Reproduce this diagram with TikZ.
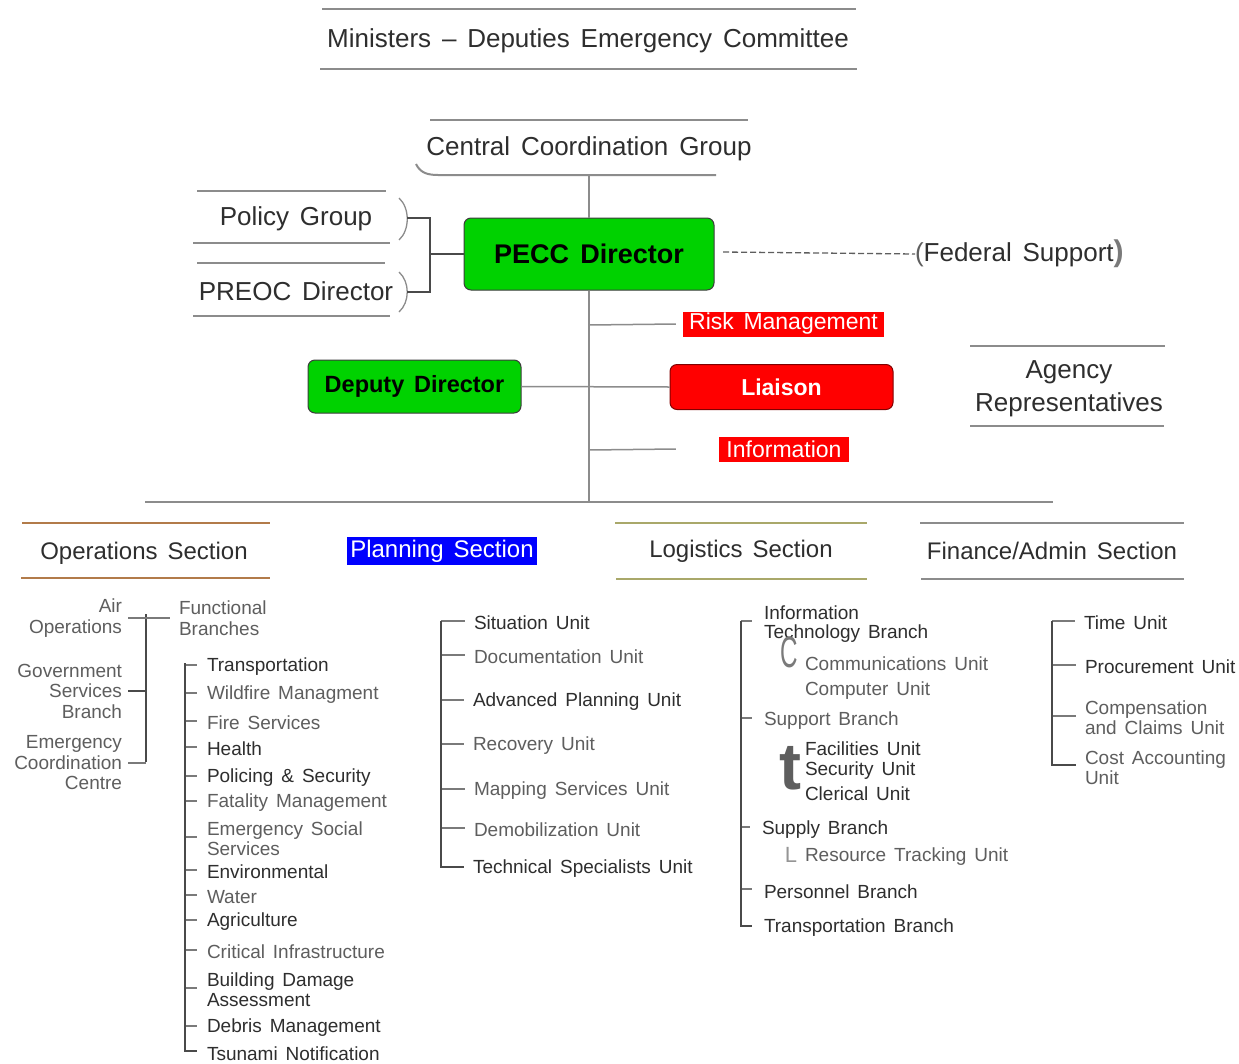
\documentclass[tikz,border=0pt]{standalone}
\usepackage{fontspec}
\setmainfont[WordSpace=1.5]{Liberation Sans}
\usetikzlibrary{calc}
\definecolor{dk}{HTML}{2E2E2E}
\definecolor{lt}{HTML}{5E5E5E}
\definecolor{rulec}{HTML}{8C8C8C}
\definecolor{brn}{HTML}{B27B4A}
\definecolor{olv}{HTML}{A9A86A}
\definecolor{grn}{HTML}{00D200}
\definecolor{bordr}{HTML}{3C3C3C}
\definecolor{trc}{HTML}{4A4A4A}
\definecolor{tkc}{HTML}{7A7A7A}
\definecolor{blu}{HTML}{0000FF}
\tikzset{
  hd/.style={inner sep=0, outer sep=0, text=dk, font=\fontsize{26}{33}\selectfont, align=center, yshift=-3pt},
  sec/.style={inner sep=0, outer sep=0, text=dk, font=\fontsize{24}{28}\selectfont, yshift=-2pt},
  itm/.style={inner sep=0, outer sep=0, anchor=west, align=left, font=\fontsize{19}{20}\selectfont, text=dk, yshift=-3pt},
  itl/.style={itm, text=lt},
  lcol/.style={inner sep=0, outer sep=0, anchor=east, align=right, font=\fontsize{19}{20.5}\selectfont, text=lt, yshift=-3pt},
  rl/.style={draw=rulec, line width=1.3},
  conn/.style={draw=rulec, line width=1.5},
  gbox/.style={draw=bordr, fill=grn, rounded corners=7, line width=1, text=black, inner sep=0},
  rbox/.style={draw=red!50!black, fill=red, rounded corners=7, line width=1, text=white, inner sep=0, font=\bfseries\fontsize{23}{23}\selectfont},
  rlab/.style={fill=red, text=white, inner sep=0, font=\fontsize{23}{25}\selectfont},
  tree/.style={draw=trc, line width=1.3},
  tick/.style={draw=tkc, line width=1.3},
  glyph/.style={inner sep=0, outer sep=0, text=tkc}
}
\begin{document}
\begin{tikzpicture}[x=1pt,y=-1pt]
\useasboundingbox[fill=white] (0,0) rectangle (1239,1063);

% ---- top title
\node[hd] (mdec) at (588,38) {Ministers – Deputies Emergency Committee};
\draw[rl] (322,9) -- (856,9);
\draw[rl, line width=2] (320,69) -- (857,69);

% ---- central coordination group
\node[hd] (ccg) at (589,146) {Central Coordination Group};
\draw[rl] (430,120) -- (748,120);
\draw[rl, line width=2] (416,164) .. controls (420,172) and (426,175) .. (438,175) -- (716,175);
\coordinate (ccgb) at (589,175);

% ---- PECC director
\node[gbox, minimum width=250, minimum height=72, font=\bfseries\fontsize{27}{27}\selectfont] (pecc) at (589,254) {PECC Director};
\draw[conn] (ccgb) -- (pecc.north);

% ---- policy group / PREOC
\node[hd] (pg) at (296,216) {Policy Group};
\draw[rl] (197,191) -- (386,191);
\draw[rl] (193,243) -- (390,243);
\draw[rl] (399,198) .. controls (410,208) and (410,230) .. (399,240);
\coordinate (pgb) at (407,218);
\node[hd] (preoc) at (296,288) {PREOC Director};
\draw[rl] (197,263) -- (385,263);
\draw[rl] (193,316) -- (390,316);
\draw[rl] (399,272) .. controls (410,282) and (410,302) .. (399,312);
\coordinate (prb) at (407,292);
\coordinate (jn) at (430,254);
\draw[draw=trc, line width=1.3] (pgb) -- (430,218) -- (430,292) -- (prb);
\draw[draw=trc, line width=1.3] (jn) -- (pecc.west);

% ---- federal support
\node[hd, anchor=west] (fed) at (915,251) {{\color{lt}(}Federal Support{\color{tkc}\bfseries\fontsize{30}{30}\selectfont)}};
\draw[draw=lt, line width=1.3, dash pattern=on 6pt off 3pt] (723,252) -- (fed.west);

% ---- trunk and staff
\coordinate (bar) at (589,502);
\draw[conn] (pecc.south) -- (bar);
\node[rlab, minimum width=201, minimum height=25] (risk) at (783.5,324) {Risk\ Management};
\draw[conn] (589,325) -- ([xshift=-7]risk.west);
\node[gbox, minimum width=213, minimum height=53, font=\bfseries\fontsize{23.5}{23.5}\selectfont] (dep) at (414.5,386.5) {Deputy Director};
\node[rbox, minimum width=223, minimum height=45] (lia) at (781.5,387) {Liaison};
\draw[conn] (dep.east) -- (lia.west);
\node[rlab, minimum width=130, minimum height=25] (info) at (784,449) {Information};
\draw[conn] (589,450) -- ([xshift=-43]info.west);

% ---- agency representatives
\node[hd] (agr) at (1069,386) {Agency\\Representatives};
\draw[rl] (970,346) -- (1165,346);
\draw[rl] (970,426) -- (1164,426);

% ---- section bar
\draw[rl, line width=2] (145,502) -- (1053,502);

% ---- section headings
\node[sec] (ops) at (144,551) {Operations Section};
\draw[draw=brn, line width=2.5] (22,523) -- (270,523);
\draw[draw=brn, line width=2.5] (21,578) -- (270,578);
\node[sec, fill=blu, text=white, minimum width=190, minimum height=28, yshift=0pt] (plan) at (442,549) {Planning Section};
\node[sec] (logs) at (741,549) {Logistics Section};
\draw[draw=olv, line width=2.5] (615,523) -- (867,523);
\draw[draw=olv, line width=2.5] (616,579) -- (867,579);
\node[sec] (fin) at (1052,549) {Finance/Admin Section};
\draw[rl, line width=2.5] (920,523) -- (1184,523);
\draw[rl, line width=2.5] (921,579) -- (1184,579);

% ---- operations: left column
\node[lcol] (air) at (122,615) {Air\\Operations};
\node[lcol] (gov) at (122,688) {Government\\Services\\Branch};
\node[lcol] (ecc) at (122,760) {Emergency\\Coordination\\Centre};
\node[itl, align=left, font=\fontsize{19}{20.5}\selectfont] (func) at (179,615) {Functional\\Branches};
\coordinate (opl) at (146,614);
\draw[tree] (opl) -- (146,762);
\draw[tick] ([xshift=6]air.east) -- ([xshift=-9]func.west);
\draw[tree] ([xshift=6]gov.east) -- (gov.east -| opl);
\draw[tick] ([xshift=6]ecc.east) -- (ecc.east -| opl);

% ---- operations: functional branches
\node[itm] (t1) at (207,664) {Transportation};
\node[itl] (t2) at (207,692) {Wildfire Managment};
\node[itl] (t3) at (207,720) {Fire Services};
\node[itm] (t4) at (207,746) {Health};
\node[itm] (t5) at (207,775) {Policing \& Security};
\node[itl] (t6) at (207,800) {Fatality Management};
\node[itl] (t7) at (207,836) {Emergency Social\\Services};
\node[itm] (t8) at (207,869) {Environmental};
\node[itl] (t9) at (207,894) {Water};
\node[itm] (t10) at (207,919) {Agriculture};
\node[itl] (t11) at (207,949) {Critical Infrastructure};
\node[itm] (t12) at (207,987) {Building Damage\\Assessment};
\node[itm] (t13) at (207,1025) {Debris Management};
\node[itm] (t14) at (207,1051) {Tsunami Notification};
\coordinate (opv) at (185,663);
\foreach \n in {t1,t2,t3,t4,t5,t6,t7,t8,t9,t10,t11,t12,t13}
  \draw[tick] ([yshift=2]\n.west -| opv) -- ([xshift=-10,yshift=2]\n.west);
\draw[tree] (opv) |- ([xshift=-10,yshift=3]t14.west);

% ---- planning units
\node[itm] (p1) at (474,620) {Situation Unit};
\node[itl] (p2) at (474,654) {Documentation Unit};
\node[itm] (p3) at (473,699) {Advanced Planning Unit};
\node[itl] (p4) at (473,743) {Recovery Unit};
\node[itl] (p5) at (474,788) {Mapping Services Unit};
\node[itl] (p6) at (474,827) {Demobilization Unit};
\node[itm] (p7) at (473,866) {Technical Specialists Unit};
\coordinate (plv) at (441,621);
\foreach \n in {p1,p2,p3,p4,p5,p6}
  \draw[tick] ([yshift=2]\n.west -| plv) -- ([xshift=-9,yshift=2]\n.west);
\draw[tree] (plv) |- ([xshift=-9,yshift=2]p7.west);

% ---- logistics branches
\node[itm, font=\fontsize{19}{19.5}\selectfont] (l1) at (764,621) {Information\\Technology Branch};
\node[glyph, font=\fontsize{44}{44}\selectfont, xscale=0.55] (cg) at (789,652) {C};
\node[itl] (l2) at (805,661) {Communications Unit};
\node[itl] (l3) at (805,688) {Computer Unit};
\node[itl] (l4) at (764,718) {Support Branch};
\node[glyph, font=\bfseries\fontsize{66}{66}\selectfont, text=lt] (tg) at (790,768) {t};
\node[itm] (l5) at (805,746) {Facilities Unit};
\node[itm] (l6) at (805,768) {Security Unit};
\node[itm] (l7) at (805,791) {Clerical Unit};
\node[itm] (l8) at (762,827) {Supply Branch};
\node[glyph, font=\fontsize{22}{22}\selectfont, text=tkc!80] (lg) at (791,855) {L};
\node[itl] (l9) at (805,854) {Resource Tracking Unit};
\node[itm] (l10) at (764,889) {Personnel Branch};
\node[itm] (l11) at (764,925) {Transportation Branch};
\coordinate (lgv) at (741,621);
\foreach \n in {l1,l4,l8,l10}
  \draw[tick] ([yshift=3]\n.west -| lgv) -- ([xshift=-12,yshift=3]\n.west);
\draw[tree] (lgv) |- ([xshift=-12,yshift=2]l11.west);

% ---- finance units
\node[itm] (f1) at (1084,620) {Time Unit};
\node[itm] (f2) at (1085,664) {Procurement Unit};
\node[itl] (f3) at (1085,715) {Compensation\\and Claims Unit};
\node[itl] (f4) at (1085,765) {Cost Accounting\\Unit};
\coordinate (fnv) at (1052,621);
\foreach \n in {f1,f2,f3}
  \draw[tick] ([yshift=2]\n.west -| fnv) -- ([xshift=-9,yshift=2]\n.west);
\draw[tree] (fnv) |- ([xshift=-9,yshift=3]f4.west);
\end{tikzpicture}
\end{document}
